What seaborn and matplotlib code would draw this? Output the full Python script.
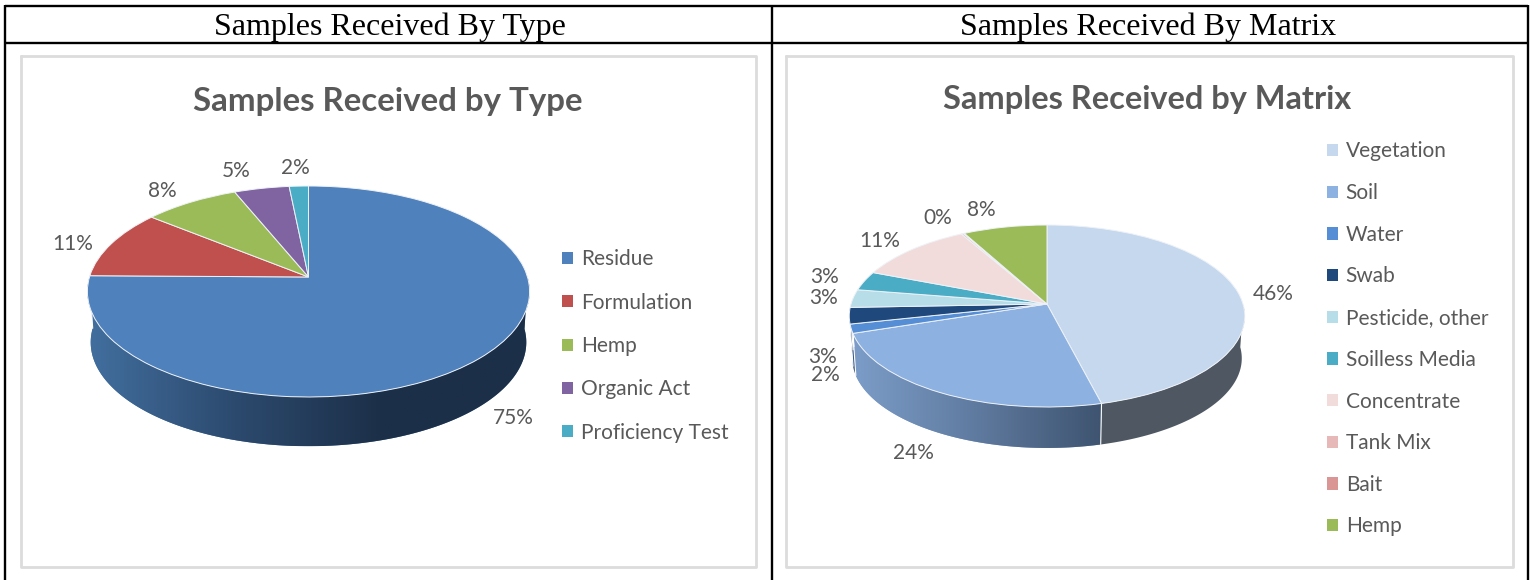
import numpy as np
import matplotlib
matplotlib.use("Agg")
import matplotlib.pyplot as plt
import seaborn as sns
from matplotlib.colors import LinearSegmentedColormap
from matplotlib.transforms import Transform

# chart values
type_names = ["Residue", "Formulation", "Hemp", "Organic Act", "Proficiency Test"]
type_values = [75.2, 10.6, 8.0, 4.6, 1.6]
type_colors = ["#4f81bd", "#c0504d", "#9bbb59", "#8064a2", "#4bacc6"]

matrix_names = ["Vegetation", "Soil", "Water", "Swab", "Pesticide, other", "Soilless Media",
                "Concentrate", "Tank Mix", "Bait", "Hemp"]
matrix_values = [46.1, 23.8, 1.6, 2.9, 3.2, 3.4, 10.9, 0.2, 0.1, 7.8]
matrix_colors = ["#c5d8ee", "#8db1e0", "#558ed5", "#1f497d", "#b7dde8", "#4bacc6",
                 "#f2dcdb", "#e6b9b8", "#d99694", "#9bbb59"]

# where the percent labels sit, in pixels
type_label_xy = [(513, 418), (73, 244), (162, 191), (236, 171), (295, 168)]
matrix_label_xy = [(1273, 294), (913, 453), (825, 375), (823, 357), (824, 298), (825, 277),
                   (880, 241), (938, 218), None, (981, 210)]

# side wall shading, left to right
type_sides = [["#426f9f", "#2c4a6e", "#1c2f48", "#1c2f48"]] + [["#7a3331"], ["#62763a"], ["#514068"], ["#2f6d7e"]]
matrix_sides = [["#4f5762"], ["#7c9dc8", "#5f7a9f", "#3e5470"], ["#35598a"], ["#13304f"], ["#748c93"],
                ["#2f6d7e"], ["#998b8a"], ["#927574"], ["#895f5e"], ["#62763a"]]

W, H = 1530, 580
GREY = "#595959"

sns.set_theme(style="white")
plt.rcParams["font.family"] = ["Lato", "DejaVu Sans"]


class Tilt(Transform):
    # perspective for a tilted disc, the apex stays at the origin
    input_dims = output_dims = 2
    is_separable = False
    has_inverse = False

    def __init__(self, k, c):
        super().__init__()
        self.k, self.c = k, c

    def transform_non_affine(self, values):
        v = np.asarray(values, dtype=float)
        w = 1 + self.k * v[:, 1]
        return np.column_stack([v[:, 0] / w, self.c * v[:, 1] / w])


def pie3d(fig, values, colors, sides, cx, cy, rx, up, down, depth):
    # axes in pixel scale, one data unit = rx pixels, centred on the apex
    half = 300
    ax = fig.add_axes([(cx - half) / W, 1 - (cy + half) / H, 2 * half / W, 2 * half / H])
    ax.patch.set_alpha(0)
    wedges, _ = ax.pie(values, colors=sns.color_palette(colors), startangle=90, counterclock=False,
                       wedgeprops=dict(edgecolor="#eef2f7", linewidth=0.7, zorder=5))
    ax.set_aspect("auto")
    lim = half / rx
    r = (down / up)
    k = (r - 1) / (r + 1)
    c = up / rx * (1 + k)
    tilt = Tilt(k, c)
    for w in wedges:
        w.set_transform(tilt + ax.transData)
        w.set_clip_on(False)

    d = depth / rx
    for w, stops in zip(wedges, sides):
        t = np.radians(np.linspace(w.theta1, w.theta2, 300))
        t = t[np.sin(t) <= 0]
        if len(t) < 2:
            continue
        rim = tilt.transform_non_affine(np.column_stack([np.cos(t), np.sin(t)]))
        low = rim * 0.985 - [0, d]
        poly = np.vstack([rim, low[::-1]])
        patch = ax.fill(poly[:, 0], poly[:, 1], color=stops[0], lw=0, zorder=2, clip_on=False)[0]
        if len(stops) > 1:
            cmap = LinearSegmentedColormap.from_list("side", stops)
            im = ax.imshow(np.linspace(0, 1, 256)[None, :], cmap=cmap, aspect="auto", zorder=3,
                           extent=[poly[:, 0].min(), poly[:, 0].max(), poly[:, 1].min(), poly[:, 1].max()])
            im.set_clip_path(patch)
        # thin seam where a slice starts on the front wall
        ax.plot([rim[0, 0], low[0, 0]], [rim[0, 1], low[0, 1]], color="white", lw=0.8, zorder=4)
    ax.set_xlim(-lim, lim)
    ax.set_ylim(-lim, lim)
    ax.axis("off")
    return ax, wedges


fig = plt.figure(figsize=(W / 100, H / 100), dpi=100)
bg = fig.add_axes([0, 0, 1, 1])
bg.set_xlim(0, W)
bg.set_ylim(H, 0)
bg.axis("off")

# table rules
for xs, ys in [([5, 1528], [5.5, 5.5]), ([5, 1528], [43, 43]), ([5.5, 5.5], [5, H]),
               ([772, 772], [5, H]), ([1528, 1528], [5, H])]:
    bg.plot(xs, ys, color="black", lw=1.7, solid_capstyle="butt")

# chart frames
for x0, x1 in [(21, 756), (786, 1513)]:
    bg.plot([x0, x1, x1, x0, x0], [56, 56, 567, 567, 56], color="#dcdcdc", lw=2)

serif = ["Liberation Serif", "DejaVu Serif"]
bg.text(390, 27, "Samples Received By Type", ha="center", va="center", fontsize=23, family=serif, color="black")
bg.text(1148, 27, "Samples Received By Matrix", ha="center", va="center", fontsize=23, family=serif, color="black")
bg.text(388, 102, "Samples Received by Type", ha="center", va="center", fontsize=23.8, fontweight="bold", color=GREY)
bg.text(1147, 99, "Samples Received by Matrix", ha="center", va="center", fontsize=23.4, fontweight="bold", color=GREY)

ax1, w1 = pie3d(fig, type_values, type_colors, type_sides, 308.5, 277, 219, 91, 120, 51)
ax2, w2 = pie3d(fig, matrix_values, matrix_colors, matrix_sides, 1047, 304, 196, 79, 103, 42.5)

for vals, spots in [(type_values, type_label_xy), (matrix_values, matrix_label_xy)]:
    for v, xy in zip(vals, spots):
        if xy is not None:
            bg.text(xy[0], xy[1], f"{v:.0f}%", ha="center", va="center", fontsize=15, color=GREY)

leg_style = dict(frameon=False, handlelength=0.52, handleheight=0.52, handletextpad=0.38, borderpad=0,
                 borderaxespad=0, loc="center left", bbox_transform=bg.transData, labelcolor=GREY, fontsize=15)
leg1 = ax1.legend(w1, type_names, bbox_to_anchor=(562.5, 346), labelspacing=1.12, **leg_style)
leg2 = ax2.legend(w2, matrix_names, bbox_to_anchor=(1327, 339), labelspacing=1.04, **leg_style)
for leg in (leg1, leg2):
    for h in leg.legend_handles:
        h.set_edgecolor("none")

fig.savefig("out.png", dpi=100)
